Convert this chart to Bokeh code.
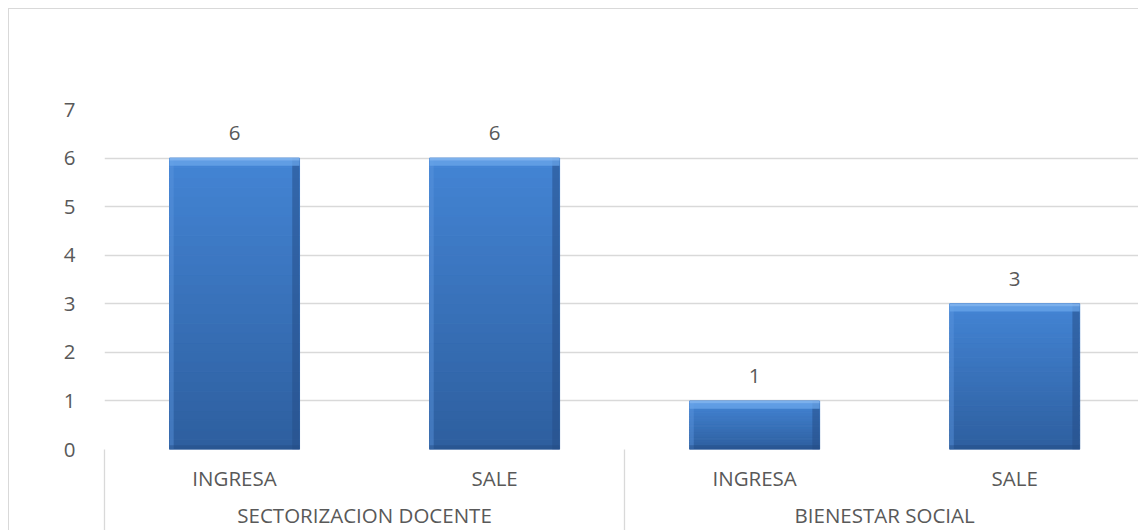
import numpy as np
from bokeh.plotting import figure
from bokeh.models import Range1d, FixedTicker, LinearAxis, Spacer
from bokeh.layouts import column, row
from bokeh.core.properties import value
from bokeh.embed import file_html
from bokeh.resources import INLINE

# ---- data ----
groups = ["SECTORIZACION DOCENTE", "BIENESTAR SOCIAL"]
subcats = ["INGRESA", "SALE"]
values = [6, 6, 1, 3]
y_ticks = [0, 1, 2, 3, 4, 5, 6, 7]

FONT = "Open Sans"
FS = "20.5px"
TXT = "#595959"
GRID = "#d9d9d9"

n_sub = len(subcats)
centers = np.arange(len(values)) + 0.5
group_centers = [n_sub * g + n_sub / 2 for g in range(len(groups))]
group_edges = [n_sub * g for g in range(len(groups) + 1)]
sub_labels = [subcats[i % n_sub] for i in range(len(values))]

p = figure(width=1130, height=522, output_backend="svg", toolbar_location=None,
           x_range=Range1d(0, 3.98), y_range=Range1d(0, 7),
           min_border_left=95, min_border_top=100, min_border_right=0,
           min_border_bottom=80, outline_line_color=None,
           x_axis_type=None)
p.styles = {"border-left": "1px solid #d9d9d9", "border-top": "1px solid #d9d9d9"}

# gridlines
p.ygrid.ticker = FixedTicker(ticks=y_ticks)
p.ygrid.grid_line_color = GRID
p.ygrid.grid_line_width = 1.3
p.xgrid.grid_line_color = None

# y axis
p.yaxis.ticker = FixedTicker(ticks=y_ticks)
p.yaxis.axis_line_color = None
p.yaxis.major_tick_line_color = None
p.yaxis.minor_tick_line_color = None
p.yaxis.major_label_standoff = 23
p.yaxis.major_label_text_font = FONT
p.yaxis.major_label_text_font_size = FS
p.yaxis.major_label_text_color = TXT

# bars: vertical gradient body
N = 30
bottom_col = np.array([0x2e, 0x5f, 0x9f])
top_col = np.array([0x44, 0x85, 0xd5])
xs, bots, tops, cols = [], [], [], []
for c, v in zip(centers, values):
    for k in range(N):
        t = (k + 0.5) / N
        rgb = (bottom_col * (1 - t) + top_col * t).astype(int)
        xs.append(c)
        bots.append(v * k / N)
        tops.append(v * (k + 1) / N)
        cols.append("#%02x%02x%02x" % tuple(rgb))
p.vbar(x=xs, bottom=bots, top=tops, width=0.5, fill_color=cols,
       line_color=cols, line_width=1)

# bevel edges
vals = np.array(values, dtype=float)
p.vbar(x=centers + 0.25 - 0.014, bottom=0, top=vals, width=0.028,
       fill_color="#264f88", fill_alpha=0.55, line_color=None)
p.vbar(x=centers - 0.25 + 0.008, bottom=0, top=vals, width=0.016,
       fill_color="#5a95dd", fill_alpha=0.45, line_color=None)
p.vbar(x=centers, bottom=0, top=0.09, width=0.5,
       fill_color="#234b82", fill_alpha=0.45, line_color=None)
p.vbar(x=centers, bottom=vals - 0.16, top=vals, width=0.5,
       fill_color="#6aa5ea", fill_alpha=0.75, line_color=None)
p.vbar(x=centers, bottom=vals - 0.05, top=vals, width=0.5,
       fill_color="#8dbcf2", fill_alpha=0.6, line_color=None)

# data labels
p.text(x=centers, y=vals, text=[str(v) for v in values], y_offset=-25,
       text_align="center", text_baseline="middle",
       text_font=value(FONT), text_font_size=FS, text_color=TXT)

# category axis (sub level) with group separators drawn as outward minor ticks
ax1 = LinearAxis(ticker=FixedTicker(ticks=list(centers), minor_ticks=group_edges))
ax1.major_label_overrides = {float(c): s for c, s in zip(centers, sub_labels)}
ax1.axis_line_color = None
ax1.major_tick_line_color = None
ax1.major_tick_out = 0
ax1.major_tick_in = 0
ax1.minor_tick_line_color = GRID
ax1.minor_tick_line_width = 1.3
ax1.minor_tick_out = 0
ax1.minor_tick_in = -90
ax1.major_label_standoff = 14
ax1.major_label_text_font = FONT
ax1.major_label_text_font_size = FS
ax1.major_label_text_color = TXT
p.add_layout(ax1, "below")

# group level
ax2 = LinearAxis(ticker=FixedTicker(ticks=group_centers, minor_ticks=[]))
ax2.major_label_overrides = {float(c): s for c, s in zip(group_centers, groups)}
ax2.axis_line_color = None
ax2.major_tick_line_color = None
ax2.major_tick_out = 0
ax2.major_tick_in = 0
ax2.minor_tick_line_color = None
ax2.major_label_standoff = 6
ax2.major_label_text_font = FONT
ax2.major_label_text_font_size = FS
ax2.major_label_text_color = TXT
p.add_layout(ax2, "below")

layout = column(Spacer(height=8), row(Spacer(width=8), p))
open("out.html", "w").write(file_html(layout, INLINE))
